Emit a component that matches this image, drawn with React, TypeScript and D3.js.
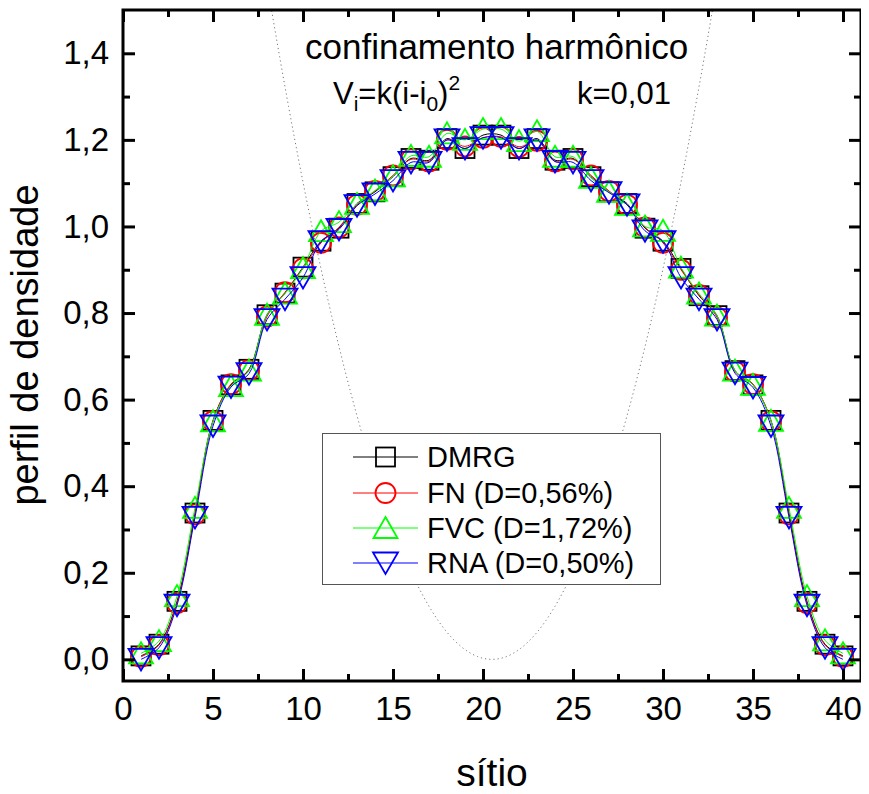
import React, { useEffect, useRef } from 'react';
import * as d3 from 'd3';

// sites (x) and density profile for each method
const sites = [1, 2, 3, 4, 5, 6, 7, 8, 9, 10, 11, 12, 13, 14, 15, 16, 17, 18, 19, 20,
  21, 22, 23, 24, 25, 26, 27, 28, 29, 30, 31, 32, 33, 34, 35, 36, 37, 38, 39, 40];

const dmrg = [0.008, 0.035, 0.134, 0.338, 0.552, 0.634, 0.670, 0.796, 0.846, 0.906,
  0.966, 0.996, 1.053, 1.080, 1.115, 1.157, 1.153, 1.203, 1.180, 1.211,
  1.211, 1.180, 1.203, 1.153, 1.157, 1.115, 1.080, 1.053, 0.996, 0.966,
  0.903, 0.840, 0.794, 0.667, 0.634, 0.552, 0.338, 0.134, 0.035, 0.008];

const fn = [0.006, 0.033, 0.130, 0.335, 0.550, 0.636, 0.668, 0.792, 0.848, 0.903,
  0.962, 0.998, 1.050, 1.082, 1.118, 1.155, 1.150, 1.200, 1.185, 1.205,
  1.207, 1.184, 1.198, 1.150, 1.155, 1.118, 1.082, 1.050, 0.998, 0.962,
  0.900, 0.842, 0.790, 0.665, 0.636, 0.550, 0.335, 0.130, 0.033, 0.006];

const fvc = [0.014, 0.042, 0.146, 0.350, 0.550, 0.631, 0.667, 0.796, 0.845, 0.904,
  0.989, 1.010, 1.052, 1.083, 1.116, 1.163, 1.161, 1.215, 1.200, 1.225,
  1.225, 1.197, 1.220, 1.161, 1.161, 1.112, 1.080, 1.050, 1.000, 0.990,
  0.905, 0.845, 0.794, 0.667, 0.634, 0.551, 0.350, 0.146, 0.044, 0.014];

const rna = [0.000, 0.027, 0.125, 0.328, 0.539, 0.629, 0.660, 0.785, 0.832, 0.882,
  0.965, 0.993, 1.048, 1.075, 1.106, 1.148, 1.148, 1.200, 1.180, 1.205,
  1.205, 1.180, 1.200, 1.150, 1.148, 1.106, 1.078, 1.050, 0.990, 0.965,
  0.882, 0.832, 0.785, 0.661, 0.628, 0.539, 0.328, 0.125, 0.027, 0.000];

const seriesNames = ['DMRG', 'FN (D=0,56%)', 'FVC (D=1,72%)', 'RNA (D=0,50%)'];

const xMajorTicks = [0, 5, 10, 15, 20, 25, 30, 35, 40];
const xMinorTicks = [2.5, 7.5, 12.5, 17.5, 22.5, 27.5, 32.5, 37.5];
const yMajorTicks = [0, 0.2, 0.4, 0.6, 0.8, 1.0, 1.2, 1.4];
const yMinorTicks = [0.1, 0.3, 0.5, 0.7, 0.9, 1.1, 1.3];

// harmonic trap V_i = k (i - i0)^2
const kTrap = 0.01;
const i0 = 20.5;

const FONT = "Arial, 'Liberation Sans', sans-serif";

const W = 869, H = 794;
const margin = { left: 123, right: 8, top: 10, bottom: 113 };

function drawSymbol(g: any, kind: string, cx: number, cy: number, color: string) {
  const sw = 1.8;
  if (kind === 'square') {
    g.append('rect').attr('x', cx - 9.5).attr('y', cy - 9.5).attr('width', 19).attr('height', 19)
      .attr('fill', 'none').attr('stroke', color).attr('stroke-width', sw);
  } else if (kind === 'circle') {
    g.append('circle').attr('cx', cx).attr('cy', cy).attr('r', 10)
      .attr('fill', 'none').attr('stroke', color).attr('stroke-width', sw);
  } else if (kind === 'up') {
    g.append('path').attr('d', `M${cx},${cy - 11}L${cx + 12},${cy + 10}L${cx - 12},${cy + 10}Z`)
      .attr('fill', 'none').attr('stroke', color).attr('stroke-width', sw);
  } else {
    g.append('path').attr('d', `M${cx - 12.5},${cy - 10.5}L${cx + 12.5},${cy - 10.5}L${cx},${cy + 11}Z`)
      .attr('fill', 'none').attr('stroke', color).attr('stroke-width', sw);
  }
}

export default function App() {
  const ref = useRef<SVGSVGElement>(null);

  useEffect(() => {
    const svg = d3.select(ref.current);
    svg.selectAll('*').remove();

    const x = d3.scaleLinear().domain([0, 41]).range([margin.left, W - margin.right]);
    const y = d3.scaleLinear().domain([-0.05, 1.5]).range([H - margin.bottom, margin.top]);
    const fmt = (v: number) => d3.format('.1f')(v).replace('.', ',');

    svg.append('defs').append('clipPath').attr('id', 'plotClip')
      .append('rect')
      .attr('x', x(0)).attr('y', y(1.5))
      .attr('width', x(41) - x(0)).attr('height', y(-0.05) - y(1.5));

    // trap potential (dotted)
    const trapX = d3.range(0, 41.01, 0.1);
    const trapLine = d3.line<number>()
      .x((d) => x(d))
      .y((d) => y(kTrap * (d - i0) * (d - i0)));
    svg.append('path')
      .datum(trapX)
      .attr('clip-path', 'url(#plotClip)')
      .attr('d', trapLine)
      .attr('fill', 'none')
      .attr('stroke', '#777')
      .attr('stroke-width', 1)
      .attr('stroke-dasharray', '1.2,3');

    // series
    const series = [
      { values: dmrg, color: '#000000', symbol: 'square' },
      { values: fn, color: '#ff0000', symbol: 'circle' },
      { values: fvc, color: '#00ff00', symbol: 'up' },
      { values: rna, color: '#0000ff', symbol: 'down' },
    ];
    const line = d3.line<number>()
      .x((_, i) => x(sites[i]))
      .y((d) => y(d))
      .curve(d3.curveCatmullRom.alpha(0.5));

    series.forEach((s) => {
      const g = svg.append('g');
      g.append('path')
        .datum(s.values)
        .attr('d', line)
        .attr('fill', 'none')
        .attr('stroke', s.color)
        .attr('stroke-width', 1);
      s.values.forEach((v, i) => drawSymbol(g, s.symbol, x(sites[i]), y(v), s.color));
    });

    // axes: ticks inward on all four sides
    const axisStyle = (g: any) => {
      g.select('.domain').remove();
      g.selectAll('line').attr('stroke', '#000').attr('stroke-width', 3);
      g.selectAll('text').attr('font-family', FONT).attr('font-size', 33).attr('fill', '#000');
    };
    const bottom = H - margin.bottom;
    svg.append('g').attr('transform', `translate(0,${bottom})`)
      .call(d3.axisBottom(x).tickValues(xMajorTicks).tickSize(-12).tickPadding(16).tickFormat(d3.format('d')))
      .call(axisStyle);
    svg.append('g').attr('transform', `translate(0,${bottom})`)
      .call(d3.axisBottom(x).tickValues(xMinorTicks).tickSize(-7).tickFormat(() => ''))
      .call(axisStyle);
    svg.append('g').attr('transform', `translate(0,${margin.top})`)
      .call(d3.axisTop(x).tickValues(xMajorTicks).tickSize(-12).tickFormat(() => ''))
      .call(axisStyle);
    svg.append('g').attr('transform', `translate(0,${margin.top})`)
      .call(d3.axisTop(x).tickValues(xMinorTicks).tickSize(-7).tickFormat(() => ''))
      .call(axisStyle);
    svg.append('g').attr('transform', `translate(${margin.left},0)`)
      .call(d3.axisLeft(y).tickValues(yMajorTicks).tickSize(-12).tickPadding(14).tickFormat((d: any) => fmt(d)))
      .call(axisStyle);
    svg.append('g').attr('transform', `translate(${margin.left},0)`)
      .call(d3.axisLeft(y).tickValues(yMinorTicks).tickSize(-7).tickFormat(() => ''))
      .call(axisStyle);
    svg.append('g').attr('transform', `translate(${W - margin.right},0)`)
      .call(d3.axisRight(y).tickValues(yMajorTicks).tickSize(-12).tickFormat(() => ''))
      .call(axisStyle);
    svg.append('g').attr('transform', `translate(${W - margin.right},0)`)
      .call(d3.axisRight(y).tickValues(yMinorTicks).tickSize(-7).tickFormat(() => ''))
      .call(axisStyle);

    // frame
    svg.append('rect')
      .attr('x', margin.left).attr('y', margin.top)
      .attr('width', W - margin.right - margin.left).attr('height', bottom - margin.top)
      .attr('fill', 'none').attr('stroke', '#000').attr('stroke-width', 3);

    // axis titles
    svg.append('text')
      .attr('x', 492).attr('y', 786)
      .attr('text-anchor', 'middle')
      .attr('font-family', FONT).attr('font-size', 39)
      .text('sítio');
    svg.append('text')
      .attr('transform', 'translate(38,345) rotate(-90)')
      .attr('text-anchor', 'middle')
      .attr('font-family', FONT).attr('font-size', 38)
      .text('perfil de densidade');

    // annotations
    svg.append('text')
      .attr('x', 305).attr('y', 59)
      .attr('font-family', FONT).attr('font-size', 35)
      .text('confinamento harmônico');
    const eq = svg.append('text')
      .attr('x', 333).attr('y', 104)
      .attr('font-family', FONT).attr('font-size', 31);
    eq.append('tspan').text('V');
    eq.append('tspan').attr('font-size', 21).attr('dy', 7).text('i');
    eq.append('tspan').attr('dy', -7).text('=k(i-i');
    eq.append('tspan').attr('font-size', 21).attr('dy', 7).text('0');
    eq.append('tspan').attr('dy', -7).text(')');
    eq.append('tspan').attr('font-size', 21).attr('dy', -14).text('2');
    svg.append('text')
      .attr('x', 577).attr('y', 104)
      .attr('font-family', FONT).attr('font-size', 31)
      .text('k=0,01');

    // legend
    const lg = svg.append('g');
    lg.append('rect')
      .attr('x', 322.5).attr('y', 433.5).attr('width', 338).attr('height', 151)
      .attr('fill', '#fff').attr('stroke', '#555').attr('stroke-width', 1);
    const rowY = [457, 493, 528, 563];
    series.forEach((s, i) => {
      lg.append('line')
        .attr('x1', 353).attr('x2', 418).attr('y1', rowY[i]).attr('y2', rowY[i])
        .attr('stroke', s.color).attr('stroke-width', 1);
      drawSymbol(lg, s.symbol, 385.5, rowY[i], s.color);
      lg.append('text')
        .attr('x', 427).attr('y', rowY[i] + 10)
        .attr('font-family', FONT).attr('font-size', 29)
        .text(seriesNames[i]);
    });
  }, []);

  return (
    <svg ref={ref} width={W} height={H} style={{ display: 'block', margin: '-8px' }} />
  );
}
